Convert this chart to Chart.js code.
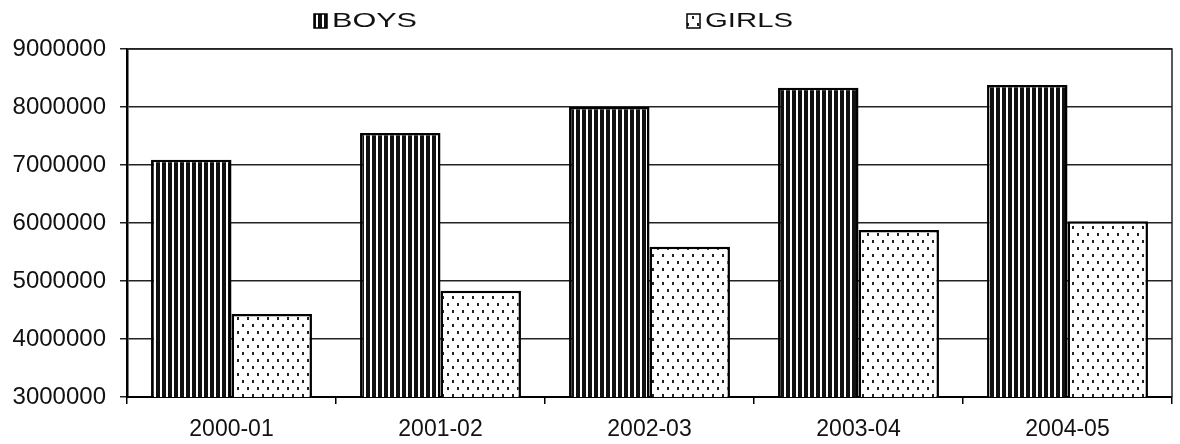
<!DOCTYPE html>
<html lang="en">
<head>
<meta charset="UTF-8">
<title>Boys and girls</title>
<script src="https://cdn.jsdelivr.net/npm/chart.js"></script>
<style>
    body { margin: 0; background: #fff; }
    #wrap { width: 1180px; height: 444px; }
</style>
</head>
<body>
<div id="wrap"><canvas id="enrol" width="1180" height="444"></canvas></div>
<script>
    // values
    const years = ['2000-01', '2001-02', '2002-03', '2003-04', '2004-05'];
    const boys  = [7090000, 7550000, 8000000, 8330000, 8380000];
    const girls = [4430000, 4830000, 5590000, 5880000, 6030000];
    const seriesNames = ['BOYS', 'GIRLS'];
    const yMin = 3000000, yMax = 9000000, yStep = 1000000;

    const FONT = '"Liberation Sans", Arial, sans-serif';

    // vertical stripes for boys
    function stripePattern() {
        const c = document.createElement('canvas');
        c.width = 6; c.height = 6;
        const g = c.getContext('2d');
        g.fillStyle = '#fff'; g.fillRect(0, 0, 6, 6);
        g.fillStyle = '#111'; g.fillRect(0, 0, 4, 6);
        return g.createPattern(c, 'repeat');
    }
    // staggered little marks for girls
    function dotPattern() {
        const c = document.createElement('canvas');
        c.width = 10; c.height = 14;
        const g = c.getContext('2d');
        g.fillStyle = '#fff'; g.fillRect(0, 0, 10, 14);
        g.fillStyle = '#222';
        g.fillRect(2, 2, 2, 3);
        g.fillRect(7, 9, 2, 3);
        return g.createPattern(c, 'repeat');
    }
    const fills = [stripePattern(), dotPattern()];

    // box round the plot + legend at top
    const frame = {
        id: 'frame',
        afterDraw(chart) {
            const { ctx, chartArea: a } = chart;
            ctx.save();
            ctx.strokeStyle = '#222';
            ctx.lineWidth = 1.5;
            ctx.beginPath();
            ctx.moveTo(a.left, a.top); ctx.lineTo(a.right, a.top); ctx.lineTo(a.right, a.bottom);
            ctx.stroke();

            const items = [{ x: 314, w: 85 }, { x: 687, w: 88 }];
            ctx.font = '21px ' + FONT;
            ctx.textBaseline = 'middle';
            items.forEach((it, i) => {
                ctx.fillStyle = fills[i];
                ctx.fillRect(it.x, 14, 13, 14);
                ctx.strokeStyle = '#000';
                ctx.lineWidth = 1.5;
                ctx.strokeRect(it.x, 14, 13, 14);
                ctx.fillStyle = '#111';
                const tw = ctx.measureText(seriesNames[i]).width;
                ctx.save();
                ctx.translate(it.x + 18, 21);
                ctx.scale(it.w / tw, 1);
                ctx.fillText(seriesNames[i], 0, 0);
                ctx.restore();
            });
            ctx.restore();
        }
    };

    new Chart(document.getElementById('enrol'), {
        type: 'bar',
        data: {
            labels: years,
            datasets: [
                { label: seriesNames[0], data: boys, backgroundColor: fills[0], borderColor: '#000', borderWidth: 2.5, borderSkipped: false },
                { label: seriesNames[1], data: girls, backgroundColor: fills[1], borderColor: '#000', borderWidth: 2.5, borderSkipped: false }
            ]
        },
        options: {
            responsive: false,
            animation: false,
            layout: { padding: { top: 49, left: 10, right: 8, bottom: 0 } },
            datasets: { bar: { categoryPercentage: 0.77, barPercentage: 1.0 } },
            plugins: { legend: { display: false }, tooltip: { enabled: false } },
            scales: {
                x: {
                    grid: { drawOnChartArea: false, offset: true, tickLength: 7, color: '#000', lineWidth: 1.5 },
                    border: { color: '#000', width: 2 },
                    ticks: { color: '#111', padding: 12, font: { family: FONT, size: 23 } },
                    afterFit(s) { s.height = 47; }
                },
                y: {
                    min: yMin, max: yMax,
                    grid: { color: '#222', lineWidth: 1.5, tickLength: 7 },
                    border: { color: '#000', width: 2.5 },
                    ticks: { stepSize: yStep, color: '#111', padding: 14, font: { family: FONT, size: 24 },
                             callback: v => String(v) },
                    afterFit(s) { s.width = 117; }
                }
            }
        },
        plugins: [frame]
    });
</script>
</body>
</html>
